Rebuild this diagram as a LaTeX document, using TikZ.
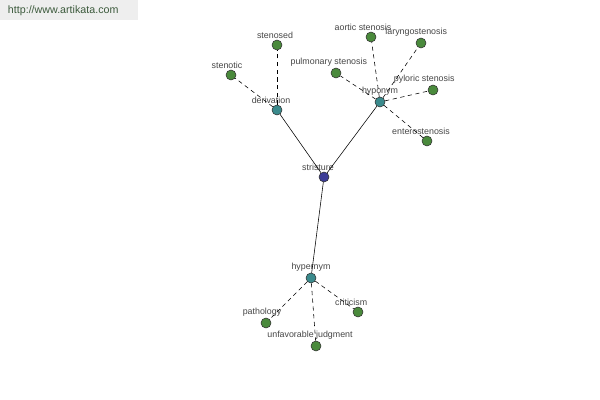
\documentclass[tikz,border=0pt]{standalone}
\usepackage{fontspec}
\setmainfont{Liberation Sans}
\usetikzlibrary{arrows.meta, positioning, calc}
\definecolor{leafgreen}{RGB}{74,138,60}
\definecolor{relteal}{RGB}{58,138,140}
\definecolor{rootblue}{RGB}{60,60,150}
\definecolor{labelgray}{RGB}{70,70,70}
\definecolor{markgray}{RGB}{238,238,238}
\definecolor{markgreen}{RGB}{60,90,60}

\begin{document}
\begin{tikzpicture}[
  x=0.025cm, y=-0.025cm,
  dot/.style={circle, draw=black!80, line width=0.4pt, minimum size=0.25cm, inner sep=0pt},
  leaf/.style={dot, fill=leafgreen},
  rel/.style={dot, fill=relteal},
  root/.style={dot, fill=rootblue},
  lbl/.style={font=\fontsize{6.3}{7}\selectfont, text=labelgray, inner sep=0.5pt},
  solidedge/.style={line width=0.4pt, black},
  dashedge/.style={line width=0.4pt, black, dashed, dash pattern=on 3pt off 2.5pt},
]
  \useasboundingbox (0,0) rectangle (600,400);
  \fill[white] (0,0) rectangle (600,400);

  % watermark
  \node[fill=markgray, minimum width=3.45cm, minimum height=0.5cm, anchor=north west,
    inner sep=0pt] (mark) at (0,0) {};
  \node[font=\fontsize{7.6}{9}\selectfont, text=markgreen, anchor=west] (url) at (3,11)
    {http://www.artikata.com};

  % centre and relation nodes
  \node[root, label={[lbl, xshift=-0.15cm, label distance=0pt]above:stristure}] (stristure) at (324,177) {};
  \node[rel, label={[lbl, xshift=-0.15cm]above:derivation}] (derivation) at (277,110) {};
  \node[rel, label={[lbl]above:hyponym}] (hyponym) at (380,102) {};
  \node[rel, label={[lbl]above:hypernym}] (hypernym) at (311,278) {};

  % derivation
  \node[leaf, label={[lbl, xshift=-0.05cm]above:stenosed}] (stenosed) at (277,45) {};
  \node[leaf, label={[lbl, xshift=-0.1cm]above:stenotic}] (stenotic) at (231,75) {};

  % hyponym
  \node[leaf, label={[lbl, xshift=-0.2cm]above:aortic stenosis}] (aortic) at (371,37) {};
  \node[leaf, label={[lbl, xshift=-0.12cm]above:laryngostenosis}] (laryngo) at (421,43) {};
  \node[leaf, label={[lbl, xshift=-0.18cm]above:pulmonary stenosis}] (pulmonary) at (336,73) {};
  \node[leaf, label={[lbl, xshift=-0.22cm]above:pyloric stenosis}] (pyloric) at (433,90) {};
  \node[leaf, label={[lbl, xshift=-0.15cm]above:enterostenosis}] (entero) at (427,141) {};

  % hypernym
  \node[leaf, label={[lbl, xshift=-0.1cm]above:pathology}] (pathology) at (266,323) {};
  \node[leaf, label={[lbl, xshift=-0.17cm]above:criticism}] (criticism) at (358,312) {};
  \node[leaf, label={[lbl, xshift=-0.15cm]above:unfavorable judgment}] (unfav) at (316,346) {};

  \draw[solidedge] (stristure) -- (derivation);
  \draw[solidedge] (stristure) -- (hyponym);
  \draw[solidedge] (stristure) -- (hypernym);

  \draw[dashedge] (derivation) -- (stenosed);
  \draw[dashedge] (derivation) -- (stenotic);
  \draw[dashedge] (hyponym) -- (aortic);
  \draw[dashedge] (hyponym) -- (laryngo);
  \draw[dashedge] (hyponym) -- (pulmonary);
  \draw[dashedge] (hyponym) -- (pyloric);
  \draw[dashedge] (hyponym) -- (entero);
  \draw[dashedge] (hypernym) -- (pathology);
  \draw[dashedge] (hypernym) -- (criticism);
  \draw[dashedge] (hypernym) -- (unfav);
\end{tikzpicture}
\end{document}
